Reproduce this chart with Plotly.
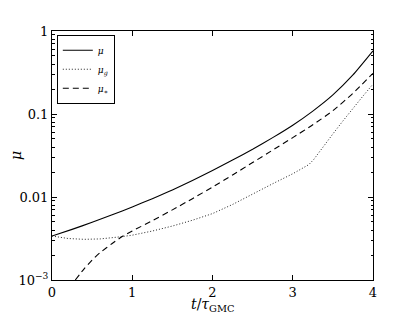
import plotly.graph_objects as go

# t / tau_GMC grid and log10 readings of each series
t_mu = [0, 0.25, 0.5, 0.75, 1.0, 1.25, 1.5, 1.75, 2.0, 2.25, 2.5, 2.75, 3.0, 3.25, 3.5, 3.75, 4.0]
log_mu = [-2.47, -2.39, -2.305, -2.215, -2.12, -2.02, -1.915, -1.80, -1.68, -1.555, -1.425, -1.285, -1.135, -0.965, -0.77, -0.53, -0.24]

t_g = [0, 0.2, 0.4, 0.6, 0.85, 1.0, 1.25, 1.5, 1.75, 2.0, 2.25, 2.5, 2.75, 3.0, 3.1, 3.2, 3.26, 3.32, 3.4, 3.5, 3.62, 3.75, 3.87, 4.0]
log_g = [-2.47, -2.50, -2.51, -2.505, -2.48, -2.46, -2.41, -2.35, -2.28, -2.20, -2.09, -1.96, -1.84, -1.72, -1.67, -1.61, -1.55, -1.47, -1.37, -1.24, -1.09, -0.93, -0.79, -0.64]

t_s = [0.29, 0.4, 0.5, 0.6, 0.75, 0.87, 1.0, 1.25, 1.5, 1.75, 2.0, 2.25, 2.5, 2.75, 3.0, 3.25, 3.5, 3.75, 4.0]
log_s = [-3.0, -2.865, -2.76, -2.67, -2.56, -2.48, -2.41, -2.285, -2.155, -2.02, -1.88, -1.735, -1.585, -1.435, -1.285, -1.13, -0.96, -0.75, -0.51]

x_ticks = [0, 1, 2, 3, 4]
y_ticks = [1e-3, 1e-2, 1e-1, 1]
y_ticktext = ["10<sup>−3</sup>", "0.01", "0.1", "1"]

mu = [10 ** v for v in log_mu]
mu_g = [10 ** v for v in log_g]
mu_s = [10 ** v for v in log_s]

FONT = "DejaVu Serif"

fig = go.Figure()
fig.add_trace(go.Scatter(x=t_mu, y=mu, mode="lines", name="<i>μ</i>",
                         line=dict(color="black", width=1.1, shape="spline", smoothing=0.5)))
fig.add_trace(go.Scatter(x=t_g, y=mu_g, mode="lines", name="<i>μ<sub>g</sub></i>",
                         line=dict(color="#222", width=1, dash="1px,2px")))
fig.add_trace(go.Scatter(x=t_s, y=mu_s, mode="lines", name="<i>μ</i><sub>∗</sub>",
                         line=dict(color="black", width=1.1, dash="6px,4px", shape="spline", smoothing=0.5)))

minor_y = [m * 10 ** e for e in (-3, -2, -1) for m in range(2, 10)]

fig.update_layout(
    width=415, height=312,
    margin=dict(l=44, r=50, t=23, b=40),
    paper_bgcolor="white", plot_bgcolor="white",
    font=dict(family=FONT, size=13, color="black"),
    showlegend=True,
    legend=dict(x=0.015, y=0.985, xanchor="left", yanchor="top",
                bordercolor="black", borderwidth=1, bgcolor="white",
                font=dict(family=FONT, size=9), itemwidth=30,
                tracegroupgap=0),
    xaxis=dict(range=[0, 4], tickvals=x_ticks, ticktext=[str(v) for v in x_ticks],
               ticks="inside", ticklen=5, tickcolor="black", showline=True,
               linecolor="black", linewidth=1, mirror="ticks", showgrid=False,
               zeroline=False, automargin=False),
    yaxis=dict(type="log", range=[-3, 0], tickvals=y_ticks, ticktext=y_ticktext,
               ticks="inside", ticklen=5, tickcolor="black", showline=True,
               linecolor="black", linewidth=1, mirror="ticks", showgrid=False,
               zeroline=False, automargin=False,
               minor=dict(tickvals=minor_y, ticks="inside", ticklen=2.5,
                          tickcolor="black", showgrid=False),
               title=dict(text="<i>μ</i>", standoff=8,
                          font=dict(family=FONT, size=14))),
    annotations=[dict(text="<i>t</i>/<i>τ</i><sub>GMC</sub>", xref="paper", yref="paper",
                      x=0.5, y=0, xanchor="center", yanchor="middle", yshift=-25,
                      showarrow=False, font=dict(family=FONT, size=14))],
)

fig.write_html("out.html")
